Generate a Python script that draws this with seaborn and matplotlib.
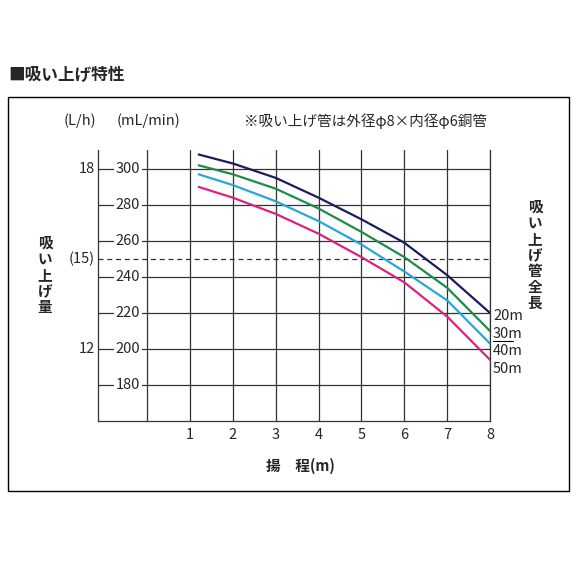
import matplotlib
matplotlib.use("Agg")
import matplotlib.pyplot as plt
import seaborn as sns
import pandas as pd
from matplotlib.patches import Rectangle

sns.set_style("white")
plt.rcParams['font.family'] = ['Noto Sans CJK JP', 'DejaVu Sans']

head = [1.2, 2, 3, 4, 5, 6, 7, 8]
flow_20m = [308, 303, 295, 284, 272, 259, 241, 220]
flow_30m = [302, 297, 289, 278, 265, 251, 234, 210]
flow_40m = [297, 291, 282, 271, 258, 243, 227, 203]
flow_50m = [290, 284, 275, 264, 251, 237, 218, 194]
series_labels = ["20m", "30m", "40m", "50m"]
colors = ["#1c1c5c", "#1f8a4c", "#2aa6d6", "#d62480"]
y_ticks = [180, 200, 220, 240, 260, 280, 300]
x_ticks = [1, 2, 3, 4, 5, 6, 7, 8]
lh_labels = {"18": 300, "(15)": 250, "12": 200}

rows = []
for lab, vals in zip(series_labels, [flow_20m, flow_30m, flow_40m, flow_50m]):
    for h, v in zip(head, vals):
        rows.append({"head": h, "flow": v, "len": lab})
df = pd.DataFrame(rows)

fig = plt.figure(figsize=(5.77, 5.77), dpi=100)
ax = fig.add_axes([98/577, 1-421/577, 392/577, 271/577])

for y in y_ticks:
    ax.axhline(y, color="#333333", lw=0.9, zorder=1)
for x in [0] + x_ticks:
    ax.axvline(x, color="#333333", lw=0.9, zorder=1)
ax.axhline(250, color="#333333", lw=0.9, ls=(0, (4, 3)), zorder=1)

sns.lineplot(data=df, x="head", y="flow", hue="len", palette=colors,
             hue_order=series_labels, legend=False, ax=ax, lw=1.6, zorder=3)

ax.set_xlim(-1.15, 8)
ax.set_ylim(160, 310.5)
ax.set_xticks([]); ax.set_yticks([])
ax.set_xlabel(""); ax.set_ylabel("")
ax.spines["top"].set_visible(False)
for s in ["left", "bottom", "right"]:
    ax.spines[s].set_color("#333333"); ax.spines[s].set_linewidth(0.9)

for y in y_ticks:
    ax.text(-0.45, y, str(y), ha="center", va="center", fontsize=10.5,
            bbox=dict(fc="white", ec="none", pad=1.0), zorder=2)
for x in x_ticks:
    ax.text(x, 156, str(x), ha="center", va="top", fontsize=10.5)
for lab, y in lh_labels.items():
    ax.text(-1.23, y, lab, ha="right", va="center", fontsize=10.5)
ends = [216, 206, 199, 191]
for lab, yy in zip(series_labels, [316, 334, 351, 369]):
    fig.text(493/577, 1-yy/577, lab, ha="left", va="center", fontsize=10.5)
fig.add_artist(plt.Line2D([493/577, 513/577], [1-341/577]*2, color="black", lw=0.8))

fig.text(80/577, 1-121/577, "(L/h)", ha="center", va="center", fontsize=10.5)
fig.text(148/577, 1-121/577, "(mL/min)", ha="center", va="center", fontsize=10.5)
fig.text(365/577, 1-121/577, "※吸い上げ管は外径φ8×内径φ6銅管", ha="center", va="center", fontsize=10.5)
fig.text(45/577, 1-275/577, "\n".join("吸い上げ量"), ha="center", va="center", fontsize=10.5, linespacing=1.0, weight="bold")
fig.text(535/577, 1-255/577, "\n".join("吸い上げ管全長"), ha="center", va="center", fontsize=10.5, linespacing=1.0, weight="bold")
fig.text(300/577, 1-466/577, "揚　程(m)", ha="center", va="center", fontsize=10.5, weight="bold")
fig.text(8/577, 1-75/577, "■吸い上げ特性", ha="left", va="center", fontsize=12, weight="bold")
fig.add_artist(Rectangle((8/577, 1-491/577), 561/577, 394/577, transform=fig.transFigure,
                         fill=False, ec="black", lw=1.0))

fig.savefig("out.png", dpi=100)
